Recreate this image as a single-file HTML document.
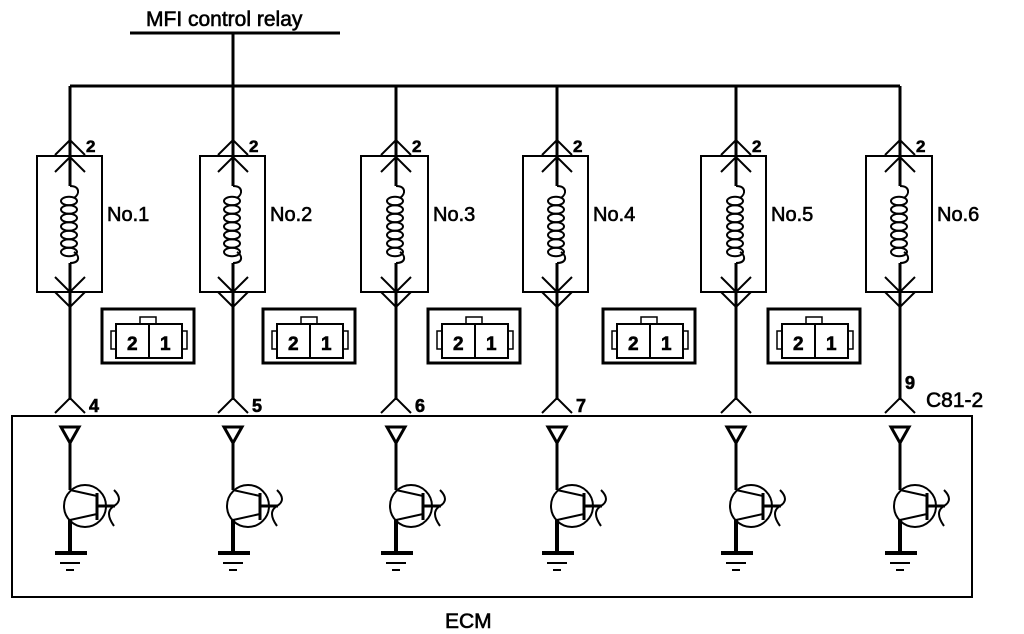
<!DOCTYPE html>
<html><head><meta charset="utf-8"><style>
html,body{margin:0;padding:0;background:#fff;width:1024px;height:634px;overflow:hidden}
text{font-family:"Liberation Sans",sans-serif;fill:#000;stroke:#000;stroke-width:0.6}
</style></head><body>
<svg id="s" width="1024" height="634" viewBox="0 0 1024 634" xmlns="http://www.w3.org/2000/svg">
<g stroke="#000" fill="none" stroke-width="2">
<line x1="130" y1="33" x2="340" y2="33" stroke-width="3"/>
<line x1="233" y1="33" x2="233" y2="86" stroke-width="3"/>
<line x1="70" y1="86" x2="900" y2="86" stroke-width="3"/>
<rect x="12" y="416" width="960" height="181"/>
</g>
<text x="146" y="26" font-size="21">MFI control relay</text>
<text x="445" y="628" font-size="21">ECM</text>
<text x="926" y="407" font-size="21">C81-2</text>
<g id="cols"></g>
</svg>
<script>
var cols=[
{x:70,bl:37,br:102,lab:"No.1",pin:"4",cx:102},
{x:233,bl:200,br:265,lab:"No.2",pin:"5",cx:263},
{x:396,bl:361,br:428,lab:"No.3",pin:"6",cx:428},
{x:557,bl:523,br:588,lab:"No.4",pin:"7",cx:603},
{x:736,bl:701,br:766,lab:"No.5",pin:"",cx:768},
{x:900,bl:866,br:932,lab:"No.6",pin:"9",cx:null}];
var h="";
cols.forEach(function(c){
var x=c.x;
h+='<g stroke="#000" fill="none" stroke-width="2">';
h+='<line x1="'+x+'" y1="86" x2="'+x+'" y2="186" stroke-width="3"/>';
h+='<line x1="'+x+'" y1="263" x2="'+x+'" y2="400" stroke-width="3"/>';
h+='<rect x="'+c.bl+'" y="156" width="'+(c.br-c.bl)+'" height="136"/>';
[140,157].forEach(function(y){h+='<polyline points="'+(x-15)+','+(y+15)+' '+x+','+y+' '+(x+15)+','+(y+15)+'"/>';});
[292,307].forEach(function(y){h+='<polyline points="'+(x-15)+','+(y-15)+' '+x+','+y+' '+(x+15)+','+(y-15)+'"/>';});
h+='<polyline points="'+(x-15)+',413 '+x+',398 '+(x+15)+',413"/>';
// coil
var p='M'+x+',186 c10,0 10,8 4,12';
h+='<path d="'+p+'"/>';
for(var i=0;i<7;i++){var cy=201+i*8.5;h+='<ellipse cx="'+(x-1)+'" cy="'+cy+'" rx="8" ry="4.3"/>';}
h+='<path d="M'+(x+4)+',252 c6,4 6,11 -4,11"/>';
// transistor
h+='<polygon points="'+(x-9)+',427 '+(x+9)+',427 '+x+',443" stroke-width="3"/>';
h+='<line x1="'+x+'" y1="443" x2="'+x+'" y2="490" stroke-width="3"/>';
h+='<line x1="'+x+'" y1="520" x2="'+x+'" y2="553" stroke-width="4"/>';
h+='<circle cx="'+(x+15)+'" cy="506" r="21"/>';
h+='<line x1="'+x+'" y1="490" x2="'+(x+27)+'" y2="496"/>';
h+='<line x1="'+x+'" y1="520" x2="'+(x+27)+'" y2="514"/>';
h+='<line x1="'+(x+27)+'" y1="493" x2="'+(x+27)+'" y2="520" stroke-width="3"/>';
h+='<line x1="'+(x+27)+'" y1="506" x2="'+(x+45)+'" y2="506" stroke-width="3"/>';
h+='<path d="M'+(x+44)+',490 q10,10 0,16 q-10,6 0,20"/>';
h+='<line x1="'+(x-15)+'" y1="553" x2="'+(x+17)+'" y2="553" stroke-width="4"/>';
h+='<line x1="'+(x-10)+'" y1="563" x2="'+(x+10)+'" y2="563"/>';
h+='<line x1="'+(x-4)+'" y1="570" x2="'+(x+4)+'" y2="570"/>';
if(c.cx!==null){var a=c.cx;
h+='<rect x="'+a+'" y="309" width="92" height="54" stroke-width="3"/>';
h+='<rect x="'+(a+14)+'" y="324" width="66" height="34"/>';
h+='<line x1="'+(a+47)+'" y1="324" x2="'+(a+47)+'" y2="358"/>';
h+='<rect x="'+(a+38)+'" y="317" width="16" height="7" stroke-width="1.5"/>';
h+='<rect x="'+(a+9)+'" y="331" width="5" height="18" stroke-width="1.5"/>';
h+='<rect x="'+(a+80)+'" y="331" width="5" height="18" stroke-width="1.5"/>';
}
h+='</g>';
h+='<text x="'+(x+16)+'" y="152" font-size="17" font-weight="bold">2</text>';
h+='<text x="'+(c.br+5)+'" y="221" font-size="20">'+c.lab+'</text>';
if(c.cx!==null){
h+='<text x="'+(c.cx+25)+'" y="350" font-size="19" font-weight="bold">2</text>';
h+='<text x="'+(c.cx+58)+'" y="350" font-size="19" font-weight="bold">1</text>';}
if(c.pin){ if(c.pin==="9") h+='<text x="'+(x+5)+'" y="389" font-size="18" font-weight="bold">9</text>';
else h+='<text x="'+(x+19)+'" y="412" font-size="18" font-weight="bold">'+c.pin+'</text>';}
});
document.getElementById('cols').innerHTML=h;
</script>
</body></html>
